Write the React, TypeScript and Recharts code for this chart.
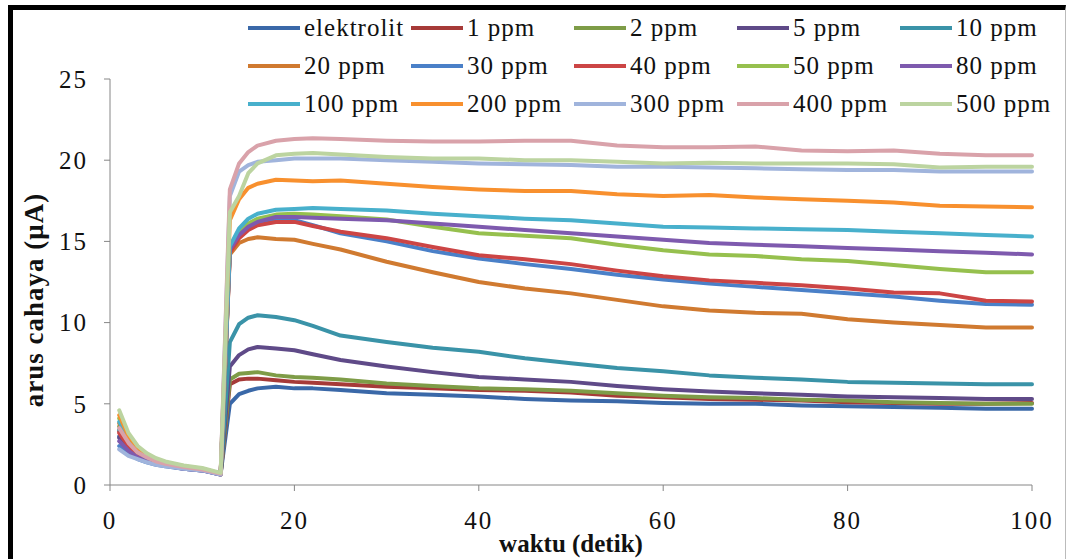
import React from 'react';
import { LineChart, Line, XAxis, YAxis, Legend, Label } from 'recharts';

const X = [1, 2, 3, 4, 5, 6, 8, 10, 12, 13, 14, 15, 16, 18, 20, 22, 25, 30, 35, 40, 45, 50, 55, 60, 65, 70, 75, 80, 85, 90, 95, 100];

const elektrolit = [3.0, 2.2, 1.8, 1.5, 1.35, 1.2, 1.05, 0.95, 0.7, 5.0, 5.6, 5.8, 5.95, 6.05, 5.95, 5.95, 5.85, 5.65, 5.55, 5.45, 5.3, 5.2, 5.15, 5.05, 5.0, 5.0, 4.9, 4.85, 4.8, 4.75, 4.7, 4.7];
const ppm1 = [3.3, 2.4, 1.9, 1.6, 1.4, 1.25, 1.05, 0.95, 0.7, 6.2, 6.5, 6.55, 6.55, 6.45, 6.35, 6.3, 6.2, 6.05, 5.95, 5.85, 5.8, 5.7, 5.5, 5.4, 5.3, 5.25, 5.2, 5.1, 5.05, 5.0, 5.0, 5.05];
const ppm2 = [3.6, 2.6, 2.0, 1.65, 1.45, 1.3, 1.1, 0.95, 0.7, 6.5, 6.85, 6.9, 6.95, 6.75, 6.65, 6.6, 6.5, 6.25, 6.1, 5.95, 5.9, 5.8, 5.65, 5.5, 5.4, 5.35, 5.25, 5.2, 5.1, 5.05, 5.0, 5.0];
const ppm5 = [2.9, 2.2, 1.75, 1.5, 1.3, 1.2, 1.0, 0.9, 0.65, 7.3, 8.0, 8.35, 8.5, 8.4, 8.3, 8.05, 7.7, 7.3, 6.95, 6.65, 6.5, 6.35, 6.1, 5.9, 5.75, 5.65, 5.55, 5.45, 5.4, 5.35, 5.3, 5.3];
const ppm10 = [3.4, 2.5, 1.9, 1.6, 1.4, 1.25, 1.05, 0.95, 0.7, 8.8, 9.9, 10.3, 10.45, 10.35, 10.15, 9.8, 9.2, 8.8, 8.45, 8.2, 7.8, 7.5, 7.2, 7.0, 6.75, 6.6, 6.5, 6.35, 6.3, 6.25, 6.2, 6.2];
const ppm20 = [3.8, 2.7, 2.1, 1.7, 1.5, 1.3, 1.1, 0.95, 0.65, 14.2, 14.9, 15.15, 15.25, 15.15, 15.1, 14.85, 14.5, 13.75, 13.1, 12.5, 12.1, 11.8, 11.4, 11.0, 10.75, 10.6, 10.55, 10.2, 10.0, 9.85, 9.7, 9.7];
const ppm30 = [2.4, 1.9, 1.6, 1.4, 1.25, 1.15, 1.0, 0.9, 0.65, 14.4, 15.3, 15.8, 16.1, 16.3, 16.3, 16.0, 15.5, 15.0, 14.4, 13.95, 13.6, 13.3, 12.95, 12.65, 12.4, 12.2, 12.0, 11.8, 11.6, 11.35, 11.15, 11.1];
const ppm40 = [3.2, 2.4, 1.9, 1.6, 1.4, 1.25, 1.05, 0.95, 0.7, 14.3, 15.2, 15.7, 16.0, 16.2, 16.2, 15.95, 15.6, 15.2, 14.65, 14.15, 13.9, 13.6, 13.2, 12.85, 12.6, 12.45, 12.3, 12.1, 11.85, 11.8, 11.35, 11.3];
const ppm50 = [4.1, 2.9, 2.2, 1.8, 1.55, 1.35, 1.15, 1.0, 0.7, 14.6, 15.6, 16.1, 16.4, 16.65, 16.7, 16.65, 16.55, 16.35, 15.9, 15.5, 15.35, 15.2, 14.8, 14.45, 14.2, 14.1, 13.9, 13.8, 13.55, 13.3, 13.1, 13.1];
const ppm80 = [2.7, 2.1, 1.7, 1.5, 1.3, 1.2, 1.0, 0.9, 0.65, 14.5, 15.4, 15.9, 16.2, 16.5, 16.5, 16.45, 16.4, 16.3, 16.1, 15.9, 15.7, 15.5, 15.3, 15.1, 14.9, 14.8, 14.7, 14.6, 14.5, 14.4, 14.3, 14.2];
const ppm100 = [3.9, 2.8, 2.1, 1.75, 1.5, 1.35, 1.1, 1.0, 0.7, 14.7, 15.8, 16.4, 16.7, 16.95, 17.0, 17.05, 17.0, 16.9, 16.7, 16.55, 16.4, 16.3, 16.1, 15.9, 15.85, 15.8, 15.75, 15.7, 15.6, 15.5, 15.4, 15.3];
const ppm200 = [4.3, 3.0, 2.3, 1.85, 1.6, 1.4, 1.15, 1.0, 0.7, 16.3, 17.6, 18.3, 18.55, 18.8, 18.75, 18.7, 18.75, 18.55, 18.35, 18.2, 18.1, 18.1, 17.9, 17.8, 17.85, 17.7, 17.6, 17.5, 17.4, 17.2, 17.15, 17.1];
const ppm300 = [2.2, 1.8, 1.6, 1.4, 1.25, 1.15, 1.0, 0.9, 0.65, 17.8, 19.3, 19.7, 19.9, 20.0, 20.1, 20.1, 20.1, 20.0, 19.9, 19.8, 19.75, 19.7, 19.6, 19.6, 19.55, 19.5, 19.45, 19.4, 19.4, 19.3, 19.3, 19.3];
const ppm400 = [3.5, 2.6, 2.0, 1.7, 1.45, 1.3, 1.1, 0.95, 0.7, 18.2, 19.8, 20.5, 20.9, 21.2, 21.3, 21.35, 21.3, 21.2, 21.15, 21.15, 21.2, 21.2, 20.9, 20.8, 20.8, 20.85, 20.6, 20.55, 20.6, 20.4, 20.3, 20.3];
const ppm500 = [4.6, 3.2, 2.4, 1.95, 1.65, 1.45, 1.2, 1.05, 0.75, 16.8, 17.8, 19.2, 19.8, 20.3, 20.4, 20.45, 20.35, 20.2, 20.1, 20.1, 20.0, 20.0, 19.9, 19.8, 19.85, 19.8, 19.8, 19.8, 19.75, 19.55, 19.6, 19.6];

const X_TICKS = [0, 20, 40, 60, 80, 100];
const Y_TICKS = [0, 5, 10, 15, 20, 25];

const SERIES = [
  { key: 's0', name: 'elektrolit', color: '#3A68A8', values: elektrolit },
  { key: 's1', name: '1 ppm', color: '#A63A38', values: ppm1 },
  { key: 's2', name: '2 ppm', color: '#7E9C47', values: ppm2 },
  { key: 's3', name: '5 ppm', color: '#5F4A88', values: ppm5 },
  { key: 's4', name: '10 ppm', color: '#3A93A8', values: ppm10 },
  { key: 's5', name: '20 ppm', color: '#D07A30', values: ppm20 },
  { key: 's6', name: '30 ppm', color: '#4A80C8', values: ppm30 },
  { key: 's7', name: '40 ppm', color: '#CC4545', values: ppm40 },
  { key: 's8', name: '50 ppm', color: '#96C04E', values: ppm50 },
  { key: 's9', name: '80 ppm', color: '#7E5AAE', values: ppm80 },
  { key: 's10', name: '100 ppm', color: '#48B0CC', values: ppm100 },
  { key: 's11', name: '200 ppm', color: '#F8902E', values: ppm200 },
  { key: 's12', name: '300 ppm', color: '#A0B4DC', values: ppm300 },
  { key: 's13', name: '400 ppm', color: '#D9A2AA', values: ppm400 },
  { key: 's14', name: '500 ppm', color: '#BCD4A0', values: ppm500 },
];

const data = X.map((x, i) => {
  const row: Record<string, number> = { x };
  SERIES.forEach((s) => {
    row[s.key] = s.values[i];
  });
  return row;
});

const FONT = '"Liberation Serif", "DejaVu Serif", "Noto Serif", Tinos, serif';

const renderLegend = () => (
  <div style={{ position: 'relative', width: 820, height: 120 }}>
    {SERIES.map((s, i) => {
      const col = i % 5;
      const row = Math.floor(i / 5);
      return (
        <div
          key={s.key}
          style={{
            position: 'absolute',
            left: col * 163,
            top: row * 38,
            height: 30,
            display: 'flex',
            alignItems: 'center',
          }}
        >
          <div style={{ width: 52, height: 4, background: s.color, marginRight: 4 }} />
          <span style={{ fontFamily: FONT, fontSize: 25, letterSpacing: 1, color: '#111', whiteSpace: 'nowrap', lineHeight: '30px' }}>
            {s.name}
          </span>
        </div>
      );
    })}
  </div>
);

const YLabel = (props: any) => {
  const vb = props.viewBox || {};
  const cx = 34;
  const cy = (vb.y || 0) + (vb.height || 0) / 2 + 18;
  return (
    <text
      x={cx}
      y={cy}
      transform={`rotate(-90 ${cx} ${cy})`}
      textAnchor="middle"
      dominantBaseline="central"
      style={{ fontFamily: FONT, fontSize: 27, fontWeight: 'bold', letterSpacing: 1 }}
      fill="#111"
    >
      arus cahaya (μA)
    </text>
  );
};

export default function App() {
  return (
    <div style={{ position: 'absolute', left: 0, top: 0, width: 1069, height: 559, background: '#fff', overflow: 'hidden', fontFamily: FONT }}>
      <div
        style={{
          position: 'absolute',
          left: 8,
          top: 5,
          width: 1069 - 8 - 3,
          height: 600,
          borderLeft: '5px solid #000',
          borderTop: '5px solid #000',
          borderRight: '1px solid #bbb',
          boxSizing: 'border-box',
        }}
      />
      <div style={{ position: 'absolute', left: 0, top: 0 }}>
        <LineChart width={1069} height={559} data={data} margin={{ top: 79, right: 37, bottom: 0, left: 50 }}>
          <XAxis
            dataKey="x"
            type="number"
            domain={[0, 100]}
            ticks={X_TICKS}
            height={74}
            tickSize={6}
            tickMargin={20}
            stroke="#868686"
            tick={{ fill: '#111', fontFamily: FONT, fontSize: 25, letterSpacing: 2 }}
          >
            <Label
              value="waktu (detik)"
              position="insideBottom"
              offset={7}
              style={{ fontFamily: FONT, fontSize: 25, fontWeight: 'bold', fill: '#111' }}
            />
          </XAxis>
          <YAxis
            type="number"
            domain={[0, 25]}
            ticks={Y_TICKS}
            width={60}
            tickSize={6}
            tickMargin={16}
            stroke="#868686"
            tick={{ fill: '#111', fontFamily: FONT, fontSize: 25, letterSpacing: 2 }}
          >
            <Label content={YLabel} />
          </YAxis>
          <Legend
            content={renderLegend}
            layout="vertical"
            align="center"
            verticalAlign="middle"
            wrapperStyle={{ left: 248, top: 13, width: 820, height: 120 }}
          />
          {SERIES.map((s) => (
            <Line
              key={s.key}
              type="linear"
              dataKey={s.key}
              name={s.name}
              stroke={s.color}
              strokeWidth={4}
              dot={false}
              isAnimationActive={false}
              strokeLinejoin="round"
              strokeLinecap="round"
            />
          ))}
        </LineChart>
      </div>
    </div>
  );
}
